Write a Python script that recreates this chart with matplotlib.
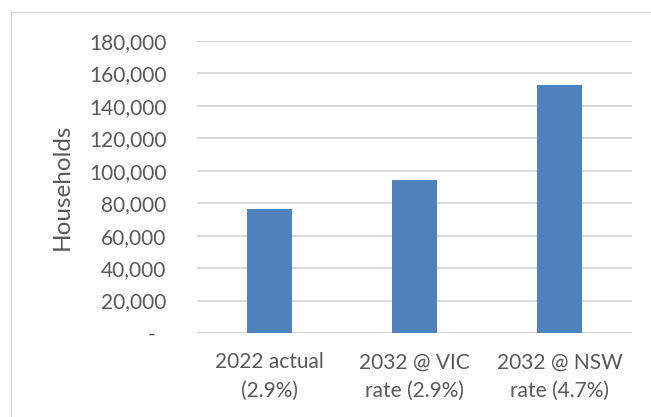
import matplotlib
matplotlib.use("Agg")
import matplotlib.pyplot as plt
from matplotlib.patches import Rectangle

categories = ["2022 actual\n(2.9%)", "2032 @ VIC\nrate (2.9%)", "2032 @ NSW\nrate (4.7%)"]
values = [76600, 94300, 153000]
yticks = [0, 20000, 40000, 60000, 80000, 100000, 120000, 140000, 160000, 180000]
ytick_labels = ["-  "] + [f"{v:,}" for v in yticks[1:]]

plt.rcParams['font.family'] = ['Lato', 'DejaVu Sans']
text_color = "#595959"

fig = plt.figure(figsize=(6.51, 4.17), dpi=100)
fig.patches.append(Rectangle((11/651, -0.1), 1.2, 1 - 12/417 + 0.1, transform=fig.transFigure,
                             fill=False, edgecolor="#D9D9D9", linewidth=1.0))
ax = fig.add_axes([197/651, 1 - 333/417, 435/651, 292/417])

x = list(range(len(categories)))
ax.bar(x, values, width=0.31, color="#4F81BD", zorder=3)
ax.set_xlim(-0.5, 2.5)
ax.set_ylim(0, 180000)
ax.set_yticks(yticks)
ax.set_yticklabels(ytick_labels)
ax.set_xticks(x)
ax.set_xticklabels(categories, linespacing=1.55)
ax.grid(axis="y", color="#D9D9D9", linewidth=1.4, zorder=0)
for s in ax.spines.values():
    s.set_visible(False)
ax.tick_params(axis="y", length=0, pad=22, labelsize=15, labelcolor=text_color)
ax.tick_params(axis="x", length=0, pad=14, labelsize=15, labelcolor=text_color)
ax.set_ylabel("Households", fontsize=17.5, color=text_color, labelpad=12)

fig.savefig("out.png", dpi=100)
